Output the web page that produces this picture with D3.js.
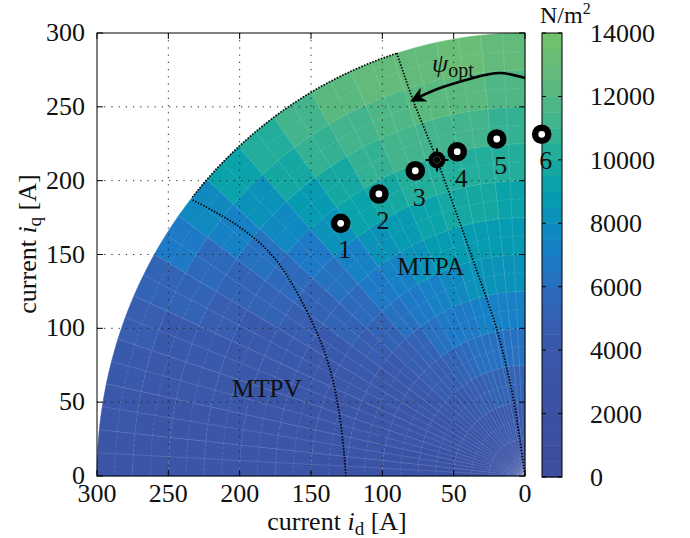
<!DOCTYPE html>
<html>
<head>
<meta charset="utf-8">
<script src="https://cdn.jsdelivr.net/npm/d3@7"></script>
<style>
  body { margin: 0; background: #fff; }
  text { font-family: "Liberation Serif", "Times New Roman", serif; fill: #111; }
</style>
</head>
<body>
<div id="chart"></div>
<script>
// axis ticks
const xTicks = [300, 250, 200, 150, 100, 50, 0];
const yTicks = [0, 50, 100, 150, 200, 250, 300];
const cTicks = [0, 2000, 4000, 6000, 8000, 10000, 12000, 14000];

// heatmap cells: current magnitude bins [A] x angle bins [deg, measured from q-axis]
const radiusEdges = [0, 25, 50, 75, 100, 125, 150, 175, 200, 225, 250, 275, 300];
const angleEdges = [0, 6, 12, 18, 24, 30, 36, 42, 48, 54, 60, 66, 72, 78, 84, 90];
// N/m^2, one row per radius bin, one column per angle bin
const cellValues = [
  [3000, 3000, 3000, 2900, 2900, 2900, 2800, 2800, 2700, 2700, 2600, 2600, 2500, 2500, 2500],
  [4300, 4300, 4200, 4100, 3900, 3800, 3600, 3500, 3300, 3200, 3000, 2900, 2800, 2700, 2600],
  [5400, 5400, 5300, 5100, 4900, 4600, 4300, 4000, 3700, 3400, 3200, 3000, 2900, 2800, 2700],
  [6400, 6400, 6300, 6000, 5700, 5300, 4900, 4500, 4100, 3700, 3400, 3200, 3000, 2900, 2800],
  [7300, 7300, 7200, 6900, 6500, 6000, 5400, 4900, 4400, 3900, 3600, 3300, 3100, 3000, 2900],
  [8000, 8100, 8000, 7700, 7300, 6700, 6000, 5300, 4700, 4200, 3800, 3400, 3200, 3100, 2900],
  [8700, 8800, 8800, 8500, 8100, 7400, 6600, 5800, 5100, 4400, 3900, 3500, 3300, 3100, 3000],
  [9400, 9600, 9600, 9400, 8900, 8200, 7300, 6300, 5400, 4700, 4100, 3700, 3400, 3200, 3000],
  [10100, 10300, 10400, 10200, 9700, 9000, 8000, 6900, 5900, 5000, 4300, 3800, 3500, 3300, 3100],
  [10900, 11100, 11200, 11000, 10500, 9800, 8800, 7600, 6400, 5400, 4600, 4000, 3600, 3300, 3100],
  [11800, 12000, 12000, 11800, 11300, 10600, 9600, 8400, 7100, 5900, 5000, 4300, 3800, 3400, 3100],
  [12900, 13100, 12900, 12500, 12000, 11200, 10300, 9200, 7900, 6500, 5400, 4600, 4000, 3500, 3100]
];

// curves [id, iq]
const mtpvCurve = [[232.9, 186.9], [200.3, 168.8], [174.5, 146.3], [148.8, 103.4], [137.2, 74.0], [130.2, 42.5], [126.0, 6.3], [125.5, 0]];
const mtpaCurve = [[89.9, 286.4], [78.5, 254.6], [61.7, 214], [47, 175], [34, 139.5], [20, 100], [9.3, 58], [3.5, 24], [0, 0]];
const limitRadius = 300;
const limitArcDeg = [17.5, 51];
const arrowCurve = [[0, 269.5], [17.5, 272.9], [36.4, 269.5], [59.6, 262.7], [78.5, 254.6]];

// operating points
const pointLabels = ["1", "2", "3", "4", "5", "6"];
const pointId = [129.2, 102.4, 76.9, 47.5, 19.8, -11.7];
const pointIq = [171.1, 191.0, 206.7, 219.6, 228.2, 231.4];
const optPoint = [61.7, 214];

// colour map (parula-like)
const cmapStops = [0, 2000, 4000, 5000, 6000, 7000, 8000, 9000, 10000, 11000, 12000, 13000, 14000];
const cmapColors = ["#3e4c9c", "#3c50a2", "#3a58aa", "#3660b2", "#2b6dbf", "#1a7dc8", "#0b8dbd", "#06a0ad", "#1aab9f", "#3db38f", "#55b882", "#66bc77", "#74c16b"];

const W = 690, H = 538;
const svg = d3.select("#chart").append("svg").attr("width", W).attr("height", H);

const x = d3.scaleLinear().domain([300, 0]).range([97, 525]);
const y = d3.scaleLinear().domain([0, 300]).range([476, 33]);
const cy = d3.scaleLinear().domain([0, 14000]).range([477, 33]);
const cmap = d3.scaleLinear().domain(cmapStops).range(cmapColors).interpolate(d3.interpolateRgb);
const bandStep = 500;
const colorOf = v => cmap(Math.floor(v / bandStep) * bandStep + bandStep / 2);

const rad = d => d * Math.PI / 180;
const pol = (r, b) => [r * Math.sin(rad(b)), r * Math.cos(rad(b))];
const line = d3.line().x(d => x(d[0])).y(d => y(d[1]));

// heatmap cells
const cells = svg.append("g");
cellValues.forEach((row, i) => {
  row.forEach((v, j) => {
    const r0 = radiusEdges[i], r1 = radiusEdges[i + 1];
    const b0 = angleEdges[j], b1 = angleEdges[j + 1];
    const pts = [];
    for (let b = b0; b <= b1 + 1e-9; b += 1) pts.push(pol(r1, b));
    for (let b = b1; b >= b0 - 1e-9; b -= 1) pts.push(pol(r0, b));
    cells.append("path")
      .attr("d", line(pts) + "Z")
      .attr("fill", colorOf(v))
      .attr("stroke", colorOf(v))
      .attr("stroke-width", 0.6);
  });
});

// faint mesh
const mesh = svg.append("g")
  .attr("fill", "none")
  .attr("stroke", "#fff")
  .attr("stroke-opacity", 0.18)
  .attr("stroke-width", 0.7);
d3.range(12.5, 300, 12.5).forEach(r => {
  mesh.append("path")
    .attr("d", line(d3.range(0, 90.5, 1).map(b => pol(r, b))))
    .attr("stroke-dasharray", "3,2");
});
d3.range(3, 90, 3).forEach(b => {
  mesh.append("path").attr("d", line([pol(0, b), pol(300, b)]));
});

// grid
const grid = svg.append("g")
  .attr("stroke", "#222")
  .attr("stroke-width", 1)
  .attr("stroke-dasharray", "1.2,6");
xTicks.filter(t => t > 0 && t < 300).forEach(t => {
  grid.append("line").attr("x1", x(t)).attr("x2", x(t)).attr("y1", y(300)).attr("y2", y(0));
});
yTicks.filter(t => t > 0 && t < 300).forEach(t => {
  grid.append("line").attr("y1", y(t)).attr("y2", y(t)).attr("x1", x(300)).attr("x2", x(0));
});

// limit curves
const curves = svg.append("g")
  .attr("fill", "none")
  .attr("stroke", "#000")
  .attr("stroke-width", 1.8)
  .attr("stroke-dasharray", "1.4,1.6");
curves.append("path").attr("d", line.curve(d3.curveCatmullRom)(mtpvCurve));
curves.append("path").attr("d", line.curve(d3.curveCatmullRom)(mtpaCurve));
curves.append("path").attr("d", line.curve(d3.curveLinear)(
  d3.range(limitArcDeg[0], limitArcDeg[1] + 0.01, 0.5).map(b => pol(limitRadius, b))));

// axes box with inward ticks
const ax = svg.append("g").attr("stroke", "#000").attr("stroke-width", 1);
ax.append("rect").attr("x", x(300)).attr("y", y(300))
  .attr("width", x(0) - x(300)).attr("height", y(0) - y(300)).attr("fill", "none");
xTicks.forEach(t => {
  ax.append("line").attr("x1", x(t)).attr("x2", x(t)).attr("y1", y(0)).attr("y2", y(0) - 6);
  ax.append("line").attr("x1", x(t)).attr("x2", x(t)).attr("y1", y(300)).attr("y2", y(300) + 6);
});
yTicks.forEach(t => {
  ax.append("line").attr("y1", y(t)).attr("y2", y(t)).attr("x1", x(300)).attr("x2", x(300) + 6);
  ax.append("line").attr("y1", y(t)).attr("y2", y(t)).attr("x1", x(0)).attr("x2", x(0) - 6);
});

// tick labels
svg.append("g").selectAll("text").data(xTicks).join("text")
  .attr("x", d => x(d)).attr("y", 502)
  .attr("text-anchor", "middle").style("font-size", "26px")
  .text(d => d);
svg.append("g").selectAll("text").data(yTicks).join("text")
  .attr("x", 85).attr("y", d => y(d) + 8)
  .attr("text-anchor", "end").style("font-size", "26px")
  .text(d => d);

// axis labels
const xl = svg.append("text").attr("x", 337).attr("y", 530)
  .attr("text-anchor", "middle").style("font-size", "26px");
xl.append("tspan").text("current ");
xl.append("tspan").style("font-style", "italic").text("i");
xl.append("tspan").attr("dy", 5).style("font-size", "19px").text("d");
xl.append("tspan").attr("dy", -5).text(" [A]");

const yl = svg.append("text").attr("transform", "translate(36,244) rotate(-90)")
  .attr("text-anchor", "middle").style("font-size", "26px");
yl.append("tspan").text("current ");
yl.append("tspan").style("font-style", "italic").text("i");
yl.append("tspan").attr("dy", 5).style("font-size", "19px").text("q");
yl.append("tspan").attr("dy", -5).text(" [A]");

// region labels
svg.append("text").attr("x", x(181)).attr("y", y(53.5)).attr("text-anchor", "middle")
  .style("font-size", "25px").text("MTPV");
svg.append("text").attr("x", x(66)).attr("y", y(136)).attr("text-anchor", "middle")
  .style("font-size", "25px").text("MTPA");

// psi_opt arrow
const defs = svg.append("defs");
defs.append("marker").attr("id", "ah")
  .attr("viewBox", "0 0 10 10").attr("refX", 8).attr("refY", 5)
  .attr("markerWidth", 6).attr("markerHeight", 6).attr("orient", "auto")
  .append("path").attr("d", "M0,0 L10,5 L0,10 L3,5 Z").attr("fill", "#000");
svg.append("path")
  .attr("d", line.curve(d3.curveNatural)(arrowCurve))
  .attr("fill", "none").attr("stroke", "#000").attr("stroke-width", 2.6)
  .attr("marker-end", "url(#ah)");
const psi = svg.append("text").attr("x", 432).attr("y", 72).style("font-size", "26px");
psi.append("tspan").style("font-style", "italic").text("ψ");
psi.append("tspan").attr("dy", 5).style("font-size", "20px").text("opt");

// colour bar
const cb = svg.append("g");
const cbx = 542, cbw = 20;
d3.range(0, 14000, bandStep).forEach(v => {
  cb.append("rect").attr("x", cbx).attr("width", cbw)
    .attr("y", cy(v + bandStep)).attr("height", cy(v) - cy(v + bandStep) + 0.5)
    .attr("fill", colorOf(v));
});
cb.append("rect").attr("x", cbx).attr("y", cy(14000)).attr("width", cbw)
  .attr("height", cy(0) - cy(14000)).attr("fill", "none").attr("stroke", "#000");
cTicks.forEach(t => {
  cb.append("line").attr("x1", cbx).attr("x2", cbx + 4).attr("y1", cy(t)).attr("y2", cy(t)).attr("stroke", "#000");
  cb.append("line").attr("x1", cbx + cbw).attr("x2", cbx + cbw - 4).attr("y1", cy(t)).attr("y2", cy(t)).attr("stroke", "#000");
  cb.append("text").attr("x", 590).attr("y", cy(t) + 9).style("font-size", "26px").text(t);
});
const unit = svg.append("text").attr("x", 540).attr("y", 23).style("font-size", "24px");
unit.append("tspan").text("N/m");
unit.append("tspan").attr("dy", -9).style("font-size", "16px").text("2");

// optimum marker
const ox = x(optPoint[0]), oy = y(optPoint[1]);
svg.append("circle").attr("cx", ox).attr("cy", oy).attr("r", 8.5).attr("fill", "#000");
[[0, -1], [1, 0], [0, 1], [-1, 0]].forEach(d => {
  svg.append("line")
    .attr("x1", ox + d[0] * 8).attr("y1", oy + d[1] * 8)
    .attr("x2", ox + d[0] * 11.5).attr("y2", oy + d[1] * 11.5)
    .attr("stroke", "#000").attr("stroke-width", 2);
});
svg.append("circle").attr("cx", ox).attr("cy", oy).attr("r", 3.5)
  .attr("fill", "none").attr("stroke", "#888").attr("stroke-width", 0.8)
  .attr("stroke-dasharray", "1,1");

// operating points (drawn on top of the colour bar, as in the original)
const pts = svg.append("g");
pointLabels.forEach((lab, i) => {
  const px = x(pointId[i]), py = y(pointIq[i]);
  pts.append("circle").attr("cx", px).attr("cy", py).attr("r", 6.6)
    .attr("fill", "#fff").attr("stroke", "#000").attr("stroke-width", 6.4);
  pts.append("text").attr("x", px + 4).attr("y", py + 35)
    .attr("text-anchor", "middle").style("font-size", "26px").text(lab);
});
</script>
</body>
</html>
